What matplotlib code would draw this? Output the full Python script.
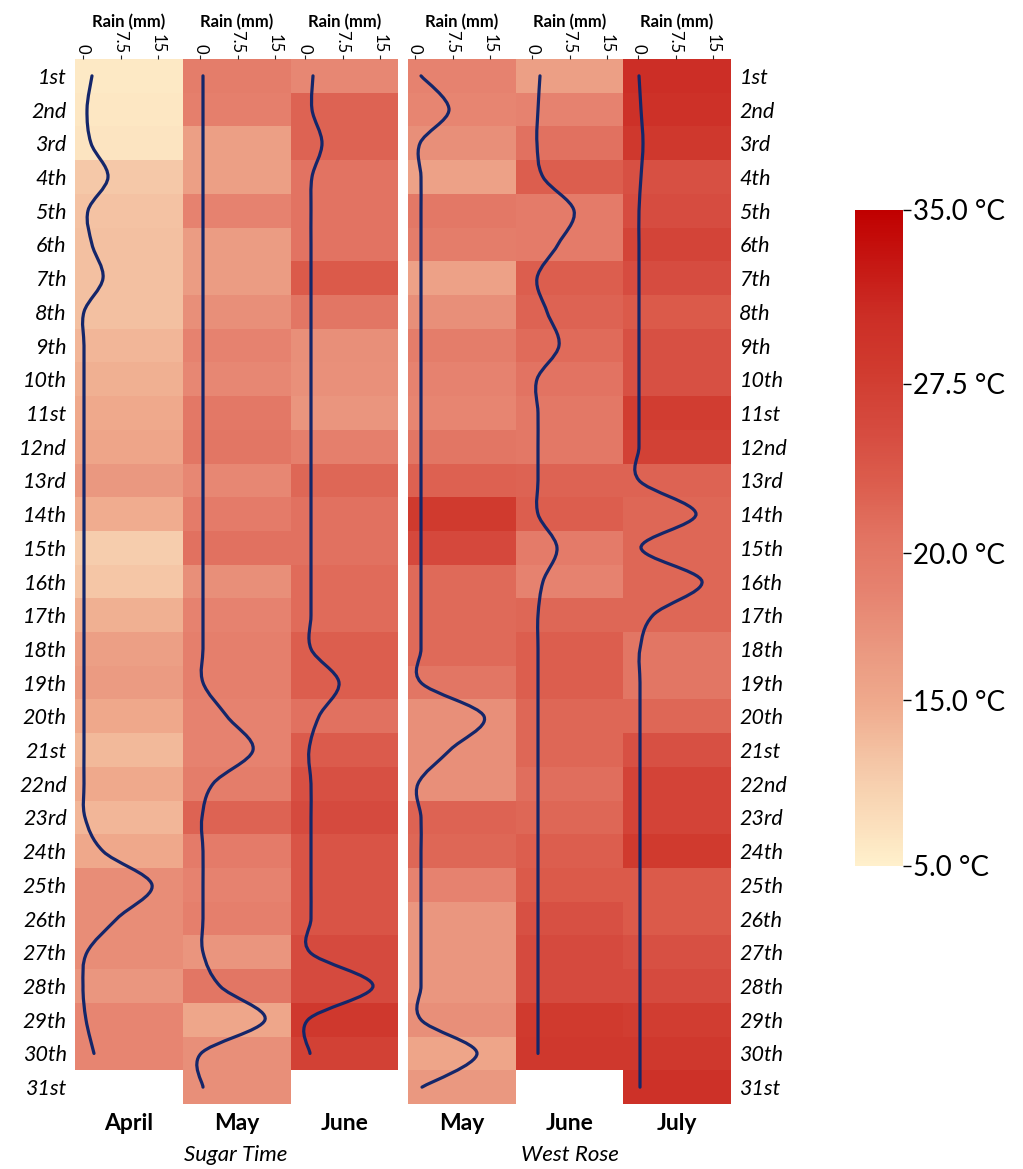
import numpy as np
import matplotlib
matplotlib.use("Agg")
import matplotlib.pyplot as plt
import matplotlib.colors as mcolors
from matplotlib.path import Path
from matplotlib.patches import PathPatch
from matplotlib.cm import ScalarMappable

plt.rcParams['font.family'] = ['Lato', 'DejaVu Sans']

# ---- data -------------------------------------------------------------
day_labels = ["1st", "2nd", "3rd", "4th", "5th", "6th", "7th", "8th", "9th", "10th",
              "11st", "12nd", "13rd", "14th", "15th", "16th", "17th", "18th", "19th", "20th",
              "21st", "22nd", "23rd", "24th", "25th", "26th", "27th", "28th", "29th", "30th",
              "31st"]

months = ["April", "May", "June", "May", "June", "July"]
groups = ["Sugar Time", "West Rose"]

# mean temperature (deg C) per day
temp_st_apr = [6.2, 6.4, 6.8, 10.9, 11.7, 12.1, 12.1, 12.1, 13.3, 14.1,
               14.9, 15.4, 16.7, 14.5, 10.1, 11.3, 14.1, 16.0, 16.5, 15.1,
               12.9, 14.9, 13.3, 15.1, 17.8, 17.8, 17.8, 16.9, 18.5, 18.5]
temp_st_may = [19.4, 19.2, 16.0, 16.0, 18.7, 16.3, 16.3, 17.6, 18.7, 18.3,
               20.1, 20.4, 18.3, 19.6, 20.9, 17.6, 18.7, 19.2, 19.2, 18.7,
               18.7, 19.4, 22.4, 19.6, 18.7, 19.2, 17.0, 20.4, 15.2, 17.6, 17.6]
temp_st_jun = [18.3, 22.4, 22.4, 20.7, 20.7, 20.7, 23.6, 20.4, 17.6, 17.4,
               17.0, 19.2, 22.1, 21.0, 21.0, 21.6, 21.6, 23.0, 23.0, 21.0,
               23.3, 24.8, 25.6, 24.2, 24.2, 24.2, 25.6, 25.6, 28.5, 27.1]
temp_wr_may = [18.7, 18.5, 17.6, 15.8, 20.1, 19.4, 15.8, 17.6, 19.4, 18.7,
               18.5, 20.4, 22.7, 28.2, 25.9, 21.8, 21.8, 21.8, 20.4, 17.6,
               17.6, 17.6, 22.4, 22.1, 18.7, 16.9, 16.9, 16.9, 17.6, 15.4, 16.7]
temp_wr_jun = [16.0, 18.7, 21.0, 23.0, 19.6, 19.6, 23.0, 22.4, 21.6, 20.7,
               20.1, 20.1, 22.4, 23.0, 19.6, 18.7, 22.1, 23.0, 23.0, 22.1,
               22.1, 21.3, 22.1, 23.0, 23.6, 24.8, 25.6, 25.6, 28.2, 28.5]
temp_wr_jul = [30.4, 29.9, 28.5, 24.8, 25.3, 26.5, 25.3, 23.6, 24.8, 24.8,
               27.6, 27.1, 22.4, 22.1, 22.1, 22.1, 22.1, 20.4, 20.4, 22.1,
               24.8, 26.8, 26.8, 28.2, 23.6, 23.6, 24.8, 25.6, 27.6, 28.5, 29.9]

# rain (mm) per day
rain_st_apr = [1.8, 0.8, 1.6, 5.0, 1.0, 1.8, 4.0, 0.2, 0.2, 0.2,
               0.2, 0.2, 0.2, 0.2, 0.2, 0.2, 0.2, 0.2, 0.2, 0.2,
               0.2, 0.2, 0.4, 4.0, 13.8, 6.8, 0.8, 0.0, 0.6, 2.2]
rain_st_may = [0.6, 0.6, 0.6, 0.6, 0.6, 0.6, 0.6, 0.6, 0.6, 0.6,
               0.6, 0.6, 0.6, 0.6, 0.6, 0.6, 0.6, 0.6, 0.6, 5.4,
               10.6, 2.6, 0.4, 0.6, 0.6, 0.6, 0.6, 4.0, 13.0, 0.2, 0.6]
rain_st_jun = [1.6, 1.4, 3.4, 1.4, 1.2, 1.2, 1.2, 1.2, 1.2, 1.2,
               1.2, 1.2, 1.2, 1.2, 1.2, 1.2, 1.2, 1.2, 6.8, 2.8,
               0.8, 1.2, 1.2, 1.2, 1.2, 1.2, 1.0, 13.6, 0.6, 1.0]
rain_wr_may = [1.2, 6.8, 1.0, 1.2, 1.2, 1.2, 1.2, 1.2, 1.2, 1.2,
               1.2, 1.2, 1.2, 1.2, 1.2, 1.2, 1.2, 1.2, 1.2, 13.8,
               7.0, 0.6, 1.2, 1.2, 1.2, 1.2, 1.2, 1.2, 1.2, 12.4, 1.4]
rain_wr_jun = [1.6, 1.2, 1.0, 2.2, 8.4, 5.2, 1.0, 3.0, 5.4, 1.0,
               1.2, 1.2, 1.2, 1.2, 5.0, 2.2, 1.2, 1.2, 1.2, 1.2,
               1.2, 1.2, 1.2, 1.2, 1.2, 1.2, 1.2, 1.2, 1.2, 1.2]
rain_wr_jul = [0.2, 0.6, 1.0, 0.6, 0.2, 0.2, 0.2, 0.2, 0.2, 0.2,
               0.2, 0.2, 0.2, 11.6, 0.6, 12.8, 3.0, 0.4, 0.4, 0.4,
               0.4, 0.4, 0.4, 0.4, 0.4, 0.4, 0.4, 0.4, 0.4, 0.4, 0.4]

temps = [temp_st_apr, temp_st_may, temp_st_jun, temp_wr_may, temp_wr_jun, temp_wr_jul]
rains = [rain_st_apr, rain_st_may, rain_st_jun, rain_wr_may, rain_wr_jun, rain_wr_jul]

rain_ticks = [0, 7.5, 15]
rain_tick_labels = ["0", "7.5", "15"]
cbar_ticks = [5, 15, 20, 27.5, 35]

# ---- layout (pixels of the 1023x1169 canvas) -------------------------------
W, H = 1023, 1169
col_left = [75, 183, 291, 408, 516, 623]
col_w = [108, 108, 107, 108, 107, 108]
zero_off = [8, 17, 14, 7, 16, 15]  # where 0 mm sits inside each column
px_per_mm = 5.0
top_px, bot_px = 59, 1104

# non-linear temperature scale (as on the original legend)
scale_t = [5, 15, 20, 27.5, 35]
scale_f = [0, 0.253, 0.477, 0.735, 1.0]
norm = mcolors.FuncNorm((lambda x: np.interp(x, scale_t, scale_f),
                         lambda y: np.interp(y, scale_f, scale_t)), vmin=5, vmax=35)
cmap = mcolors.LinearSegmentedColormap.from_list("warm", [
    (0.0, "#FFF0CC"), (0.03, "#FDE8C4"), (0.15, "#F5C8A8"), (0.25, "#EFA98C"),
    (0.33, "#EA9880"), (0.42, "#E6826F"), (0.5, "#E27462"), (0.58, "#DC5E4E"),
    (0.66, "#D64C40"), (0.76, "#D03A2E"), (0.84, "#CC2E26"), (1.0, "#C00000")])

line_col = "#14266A"


def smooth_path(x, y):
    pts = np.column_stack([x, y])
    ext = np.vstack([pts[0], pts, pts[-1]])
    verts = [pts[0]]
    codes = [Path.MOVETO]
    for i in range(len(pts) - 1):
        p0, p1, p2, p3 = ext[i], ext[i + 1], ext[i + 2], ext[i + 3]
        verts += [p1 + (p2 - p0) / 6, p2 - (p3 - p1) / 6, p2]
        codes += [Path.CURVE4] * 3
    return Path(verts, codes)


fig = plt.figure(figsize=(W / 100, H / 100), dpi=100)

for i in range(6):
    ax = fig.add_axes([col_left[i] / W, 1 - bot_px / H, col_w[i] / W, (bot_px - top_px) / H])
    x0 = -zero_off[i] / px_per_mm
    x1 = (col_w[i] - zero_off[i]) / px_per_mm
    n = len(temps[i])
    days = np.arange(1, n + 1)
    ax.pcolormesh([x0, x1], np.arange(0.5, n + 1), np.array(temps[i]).reshape(-1, 1),
                  cmap=cmap, norm=norm, shading='flat')
    ax.add_patch(PathPatch(smooth_path(rains[i], days), fill=False,
                           ec=line_col, lw=2.3, capstyle='round'))
    ax.set_xlim(x0, x1)
    ax.set_ylim(31.5, 0.5)
    for s in ax.spines.values():
        s.set_visible(False)

    ax.xaxis.tick_top()
    ax.xaxis.set_label_position('top')
    ax.set_xticks(rain_ticks)
    ax.set_xticklabels(rain_tick_labels, rotation=-90, fontsize=12)
    ax.tick_params(axis='x', length=3, width=0.8, pad=1, color='#222222')
    ax.set_xlabel("Rain (mm)", fontsize=12, fontweight='bold', labelpad=2)

    all_days = np.arange(1, 32)
    if i == 0:
        ax.set_yticks(all_days)
        ax.set_yticklabels(day_labels, fontsize=15.5, style='italic')
        ax.tick_params(axis='y', length=0, pad=6)
    elif i == 5:
        ax.yaxis.tick_right()
        ax.set_yticks(all_days)
        ax.set_yticklabels(day_labels, fontsize=15.5, style='italic')
        ax.tick_params(axis='y', length=0, pad=6)
    else:
        ax.set_yticks([])

    fig.text((col_left[i] + col_w[i] / 2) / W, 1 - 1123 / H, months[i],
             ha='center', va='center', fontsize=16.5, fontweight='bold')

fig.text(236 / W, 1 - 1155 / H, groups[0], ha='center', va='center', fontsize=16, style='italic')
fig.text(570 / W, 1 - 1155 / H, groups[1], ha='center', va='center', fontsize=16, style='italic')

# colour bar
cax = fig.add_axes([855 / W, 1 - 866 / H, 48 / W, 656 / H])
cb = fig.colorbar(ScalarMappable(norm=norm, cmap=cmap), cax=cax)
cb.set_ticks(cbar_ticks)
cb.set_ticklabels([f"{v:.1f} °C" for v in cbar_ticks])
cb.outline.set_visible(False)
cax.tick_params(length=6, width=1, labelsize=20, pad=1)
cax.minorticks_off()

fig.savefig("out.png", dpi=100)
